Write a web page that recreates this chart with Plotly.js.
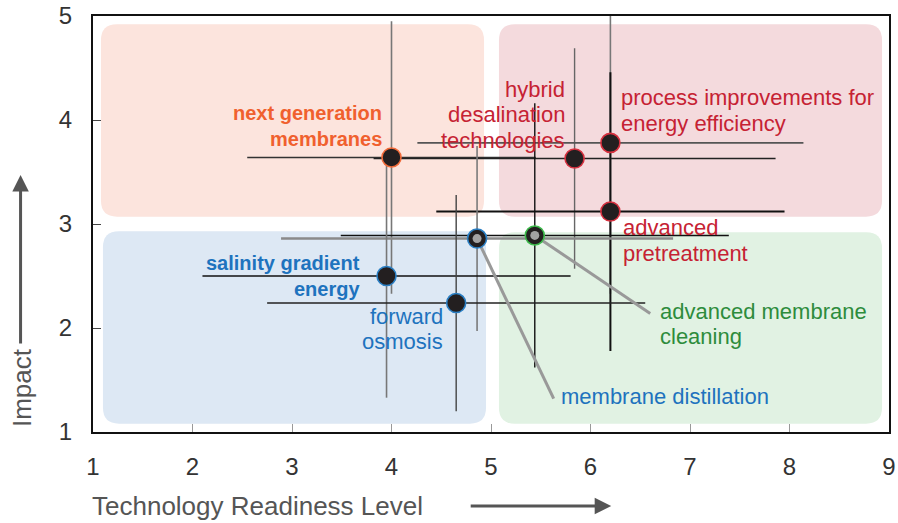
<!DOCTYPE html>
<html>
<head>
<meta charset="utf-8">
<script src="https://cdn.plot.ly/plotly-3.0.1.min.js"></script>
<style>html,body{margin:0;padding:0;background:#fff;}#chart{width:898px;height:523px;}</style>
</head>
<body>
<div id="chart"></div>
<script>
// ---------- data ----------
const techs = ['next generation membranes','hybrid desalination technologies','process improvements for energy efficiency','advanced pretreatment','membrane distillation','advanced membrane cleaning','salinity gradient energy','forward osmosis'];
const trl = [4.00, 5.84, 6.20, 6.20, 4.86, 5.44, 3.95, 4.65];
const impact = [3.64, 3.63, 3.78, 3.12, 2.86, 2.89, 2.50, 2.24];
const trlErr = [1.45, 2.02, 1.94, 1.75, 1.97, 1.95, 1.85, 1.90];
const impactErr = [1.31, 1.06, 1.45, 1.34, 0.89, 1.27, 1.17, 1.04];
const labelLines = [
  ['next generation', 'membranes'],
  ['hybrid', 'desalination', 'technologies'],
  ['process improvements for', 'energy efficiency'],
  ['advanced', 'pretreatment'],
  ['membrane distillation'],
  ['advanced membrane', 'cleaning'],
  ['salinity gradient', 'energy'],
  ['forward', 'osmosis']
];
const xTicks = [1, 2, 3, 4, 5, 6, 7, 8, 9];
const yTicks = [1, 2, 3, 4, 5];
const xTitle = 'Technology Readiness Level';
const yTitle = 'Impact';

// ---------- layout / style ----------
const labelX = [3.92, 5.76, 6.29, 6.31, 5.68, 6.68, 3.70, 4.54];
const labelY = [3.94, 4.05, 4.09, 2.84, 1.34, 2.04, 2.50, 1.99];
const labelAnchor = ['right','right','left','left','left','left','right','right'];
const labelBold = [true, false, false, false, false, false, true, false];
const ORANGE = '#f0602e', RED = '#c62233', GREEN = '#2d8c3c', BLUE = '#1e73be';
const labelColor = [ORANGE, RED, RED, RED, BLUE, GREEN, BLUE, BLUE];
const ringColor = ['#f26b3a', '#d6303f', '#d6303f', '#d6303f', '#2a7fc4', '#3dba4b', '#2a7fc4', '#2a7fc4'];
const errXColor = ['#333', '#222', '#555', '#111', '#8a8a8a', '#111', '#111', '#222'];
const errYColor = ['#777', '#666', '#777', '#111', '#7a7a7a', '#111', '#777', '#444'];
const errXWidth = [1.4, 1.4, 1.8, 2.2, 2.6, 1.4, 1.4, 1.4];
const errYWidth = [1.6, 1.4, 1.6, 2.0, 1.6, 1.4, 1.6, 1.4];
// leader lines (point index -> label lead end)
const leaderIdx = [4, 5];
const leaderEndX = [5.63, 6.60];
const leaderEndY = [1.32, 2.14];

// quadrant backgrounds
const quadX0 = [1.08, 5.08, 1.10, 5.08];
const quadX1 = [4.93, 8.93, 4.95, 8.93];
const quadY0 = [3.07, 3.07, 1.08, 1.08];
const quadY1 = [4.92, 4.92, 2.93, 2.92];
const quadFill = ['#fce4dd', '#f4dadd', '#dde8f4', '#e1f2e3'];

function roundRect(x0, x1, y0, y1) {
  const rx = 0.16, ry = 0.155;
  return `M ${x0+rx},${y0} L ${x1-rx},${y0} Q ${x1},${y0} ${x1},${y0+ry} L ${x1},${y1-ry} Q ${x1},${y1} ${x1-rx},${y1} L ${x0+rx},${y1} Q ${x0},${y1} ${x0},${y1-ry} L ${x0},${y0+ry} Q ${x0},${y0} ${x0+rx},${y0} Z`;
}
const shapes = quadX0.map((_, i) => ({
  type: 'path', xref: 'x', yref: 'y', layer: 'below',
  path: roundRect(quadX0[i], quadX1[i], quadY0[i], quadY1[i]),
  fillcolor: quadFill[i], line: {width: 0}
}));

const traces = [];
// error bars (one trace per point so colours can differ)
trl.forEach((x, i) => {
  traces.push({
    type: 'scatter', mode: 'markers', x: [x], y: [impact[i]],
    marker: {size: 2, color: 'rgba(0,0,0,0)'},
    error_x: {type: 'data', array: [trlErr[i]], symmetric: true, width: 0, color: errXColor[i], thickness: errXWidth[i]},
    error_y: {type: 'data', array: [impactErr[i]], symmetric: true, width: 0, color: errYColor[i], thickness: errYWidth[i]},
    cliponaxis: false, hoverinfo: 'skip', showlegend: false
  });
});
// leader lines
leaderIdx.forEach((p, k) => {
  traces.push({
    type: 'scatter', mode: 'lines', x: [trl[p], leaderEndX[k]], y: [impact[p], leaderEndY[k]],
    line: {color: '#999999', width: 3}, hoverinfo: 'skip', showlegend: false
  });
});
// markers
traces.push({
  type: 'scatter', mode: 'markers', x: trl, y: impact, text: techs,
  marker: {size: 19, color: '#231f20', line: {color: ringColor, width: 1.6}},
  cliponaxis: false, showlegend: false
});
// inner grey dots for leader-linked points
traces.push({
  type: 'scatter', mode: 'markers', x: leaderIdx.map(p => trl[p]), y: leaderIdx.map(p => impact[p]),
  marker: {size: 9, color: '#a3a3a3'}, hoverinfo: 'skip', showlegend: false
});

const FONT = 'Liberation Sans, Arial, Helvetica, sans-serif';
const annotations = [];
const LINE_PX = 25.5;
labelLines.forEach((lines, i) => {
  const n = lines.length;
  lines.forEach((t, j) => {
    annotations.push({
      x: labelX[i], y: labelY[i], xref: 'x', yref: 'y',
      text: labelBold[i] ? '<b>' + t + '</b>' : t,
      showarrow: false, xanchor: labelAnchor[i], yanchor: 'middle',
      yshift: ((n - 1) / 2 - j) * LINE_PX,
      font: {family: FONT, size: labelBold[i] ? 20 : 22, color: labelColor[i]}
    });
  });
});
// axis titles and arrows
annotations.push({
  xref: 'paper', yref: 'paper', x: -0.004, y: -0.178, xanchor: 'left', yanchor: 'middle',
  text: xTitle, showarrow: false, font: {family: FONT, size: 26, color: '#555'}
});
annotations.push({
  xref: 'paper', yref: 'paper', x: 0.651, y: -0.178, ax: -142, ay: 0,
  text: '', showarrow: true, arrowhead: 2, arrowsize: 1.1, arrowwidth: 3, arrowcolor: '#555'
});
annotations.push({
  xref: 'paper', yref: 'paper', x: -0.089, y: 0.106, xanchor: 'center', yanchor: 'middle',
  text: yTitle, textangle: -90, showarrow: false, font: {family: FONT, size: 26, color: '#555'}
});
annotations.push({
  xref: 'paper', yref: 'paper', x: -0.091, y: 0.618, ax: 0, ay: 170,
  text: '', showarrow: true, arrowhead: 2, arrowsize: 1.1, arrowwidth: 3, arrowcolor: '#555'
});

const layout = {
  width: 898, height: 523,
  margin: {l: 93, r: 9, t: 16, b: 91},
  paper_bgcolor: '#fff', plot_bgcolor: '#fff',
  font: {family: FONT, color: '#333'},
  xaxis: {
    range: [1, 9], tickvals: xTicks, ticktext: xTicks.map(String),
    showgrid: false, zeroline: false, ticks: 'inside', ticklen: 8, tickcolor: '#999', tickwidth: 1,
    showline: true, mirror: true, linecolor: '#111', linewidth: 2,
    tickfont: {family: FONT, size: 24, color: '#333'}, ticklabelstandoff: 12,
    ticklabeloverflow: 'allow', fixedrange: true
  },
  yaxis: {
    range: [1, 5], tickvals: yTicks, ticktext: yTicks.map(String),
    showgrid: false, zeroline: false, ticks: 'inside', ticklen: 8, tickcolor: '#444', tickwidth: 1,
    showline: true, mirror: true, linecolor: '#111', linewidth: 2,
    tickfont: {family: FONT, size: 24, color: '#333'}, ticklabelstandoff: 14,
    ticklabeloverflow: 'allow', fixedrange: true
  },
  shapes: shapes,
  annotations: annotations,
  showlegend: false
};

Plotly.newPlot('chart', traces, layout, {staticPlot: true});
</script>
</body>
</html>
